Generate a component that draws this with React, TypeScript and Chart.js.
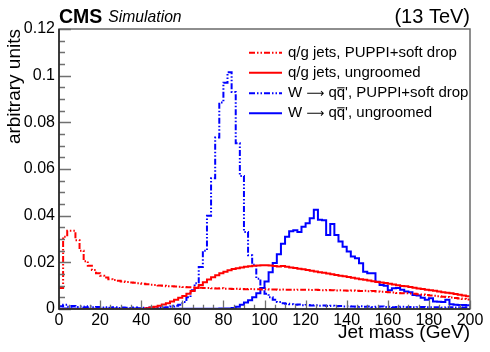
import React, { useEffect, useRef } from "react";
import { Chart, registerables } from "chart.js";

Chart.register(...registerables);

// Bin edges: 2 GeV bins from 0 to 200 GeV
const BIN_WIDTH = 2;
const N_BINS = 100;

// q/g jets, PUPPI+soft drop
const qgSoftDrop = [
  0.009, 0.031, 0.0335, 0.0335, 0.0295, 0.025, 0.0205, 0.0185, 0.0167, 0.0153,
  0.0143, 0.0135, 0.0128, 0.0124, 0.0121, 0.0118, 0.0116, 0.0114, 0.0112, 0.011,
  0.0108, 0.0106, 0.0104, 0.0103, 0.0101, 0.01, 0.0098, 0.0097, 0.0096, 0.0095,
  0.0094, 0.0093, 0.0093, 0.0092, 0.0091, 0.009, 0.009, 0.0089, 0.0088, 0.0089,
  0.0087, 0.0087, 0.0086, 0.0087, 0.0086, 0.0085, 0.0086, 0.0085, 0.0085, 0.0084,
  0.0085, 0.0084, 0.0084, 0.0083, 0.0084, 0.0083, 0.0083, 0.0082, 0.0083, 0.0082,
  0.0082, 0.0081, 0.0082, 0.0081, 0.008, 0.0081, 0.008, 0.0079, 0.008, 0.0079,
  0.0078, 0.0079, 0.0078, 0.0077, 0.0078, 0.0076, 0.0077, 0.0075, 0.0074, 0.0073,
  0.0072, 0.0071, 0.0069, 0.0068, 0.0067, 0.0066, 0.0065, 0.0063, 0.0062, 0.006,
  0.0058, 0.0057, 0.0055, 0.0053, 0.0051, 0.0049, 0.0047, 0.0045, 0.0043, 0.0041,
];

// q/g jets, ungroomed
const qgUngroomed = [
  0, 0, 0, 0, 0, 0, 0, 0, 0, 0,
  0, 0, 0, 0, 0, 0, 0, 0, 0, 0,
  0, 0.0003, 0.0006, 0.001, 0.0014, 0.0019, 0.0025, 0.0032, 0.004, 0.0048,
  0.0056, 0.0065, 0.0077, 0.009, 0.0103, 0.0115, 0.0126, 0.0136, 0.0145, 0.0153,
  0.016, 0.0166, 0.0171, 0.0175, 0.0178, 0.0181, 0.0183, 0.0185, 0.0186, 0.0187,
  0.0187, 0.0186, 0.0184, 0.0182, 0.0184, 0.0181, 0.0178, 0.0176, 0.0173, 0.017,
  0.0167, 0.0164, 0.0161, 0.0158, 0.0155, 0.0152, 0.0149, 0.0146, 0.0143, 0.014,
  0.0137, 0.0134, 0.0131, 0.0128, 0.0125, 0.0122, 0.0119, 0.0116, 0.0114, 0.0111,
  0.0108, 0.0105, 0.0102, 0.0099, 0.0097, 0.0094, 0.0091, 0.0088, 0.0086, 0.0083,
  0.008, 0.0078, 0.0075, 0.0072, 0.007, 0.0067, 0.0064, 0.0061, 0.0058, 0.0055,
];

// W -> qq', PUPPI+soft drop
const wSoftDrop = [
  0.0012, 0.0018, 0.001, 0.0013, 0.0009, 0.0011, 0.0008, 0.0012, 0.0007, 0.0009,
  0.0006, 0.0008, 0.0005, 0.0007, 0.0004, 0.0006, 0.0005, 0.0004, 0.0006, 0.0003,
  0.0005, 0.0004, 0.0006, 0.0005, 0.0007, 0.0006, 0.0008, 0.0011, 0.0014, 0.0018,
  0.003, 0.005, 0.008, 0.011, 0.018, 0.025, 0.04, 0.056, 0.0735, 0.0885,
  0.097, 0.1015, 0.093, 0.071, 0.057, 0.033, 0.023, 0.019, 0.013, 0.009,
  0.0065, 0.005, 0.004, 0.003, 0.0025, 0.0022, 0.002, 0.0018, 0.0019, 0.0016,
  0.0017, 0.0015, 0.0016, 0.0014, 0.0015, 0.0013, 0.0014, 0.0012, 0.0013, 0.0011,
  0.0012, 0.0011, 0.001, 0.0012, 0.001, 0.0011, 0.0009, 0.001, 0.0011, 0.0009,
  0.001, 0.0008, 0.0009, 0.001, 0.0008, 0.0009, 0.0007, 0.0008, 0.0009, 0.0007,
  0.0008, 0.0007, 0.0008, 0.0006, 0.0007, 0.0008, 0.0006, 0.0007, 0.0006, 0.0007,
];

// W -> qq', ungroomed
const wUngroomed = [
  0.0001, 0.0002, 0.0001, 0.0002, 0.0001, 0.0001, 0.0002, 0.0001, 0.0001, 0.0002,
  0.0001, 0.0001, 0.0001, 0.0002, 0.0001, 0.0001, 0.0001, 0.0001, 0.0002, 0.0001,
  0.0001, 0.0001, 0.0001, 0.0001, 0.0001, 0.0001, 0.0001, 0.0001, 0.0001, 0.0001,
  0.0001, 0.0001, 0.0001, 0.0001, 0.0001, 0.0001, 0.0001, 0.0001, 0.0001, 0.0002,
  0.0002, 0.0002, 0.0004, 0.001, 0.0018, 0.0028, 0.0038, 0.005, 0.0068, 0.009,
  0.0118, 0.0158, 0.0197, 0.0235, 0.028, 0.031, 0.0333, 0.0338, 0.033, 0.0353,
  0.0367, 0.0389, 0.0425, 0.0382, 0.038, 0.0317, 0.0364, 0.0317, 0.0289, 0.0267,
  0.0246, 0.0225, 0.0217, 0.0196, 0.016, 0.0153, 0.0153, 0.0117, 0.0103, 0.01,
  0.008, 0.0089, 0.009, 0.0083, 0.0075, 0.0072, 0.006, 0.0058, 0.0048, 0.004,
  0.0046, 0.0032, 0.0031, 0.003, 0.004, 0.002, 0.0018, 0.0017, 0.0017, 0.0016,
];

const xTickValues = [0, 20, 40, 60, 80, 100, 120, 140, 160, 180, 200];
const yTickValues = [0, 0.02, 0.04, 0.06, 0.08, 0.1, 0.12];

const legendLabels = [
  "q/g jets, PUPPI+soft drop",
  "q/g jets, ungroomed",
  "W \u27F6 qq', PUPPI+soft drop",
  "W \u27F6 qq', ungroomed",
];

const FONT = "'Liberation Sans', Arial, Helvetica, sans-serif";
const ARROW_FONT = "'DejaVu Sans', 'Noto Sans', sans-serif";
const RED = "#ff0000";
const BLUE = "#0000ff";
const DASH_RED = [6, 2, 1.5, 2, 1.5, 2];
const DASH_BLUE = [6, 2, 1.5, 2, 1.5, 2];

function toSteps(values: number[]) {
  const pts = values.map((v, i) => ({ x: i * BIN_WIDTH, y: v }));
  pts.push({ x: N_BINS * BIN_WIDTH, y: values[values.length - 1] });
  return pts;
}

const decorPlugin = {
  id: "decor",
  afterDraw(chart: any) {
    const { ctx, chartArea: a, scales } = chart;
    const xs = scales.x;
    const ys = scales.y;
    ctx.save();

    // ticks (inside)
    ctx.strokeStyle = "#707070";
    ctx.lineWidth = 1.3;
    ctx.beginPath();
    for (let v = 0; v <= 200.001; v += 5) {
      const px = Math.round(xs.getPixelForValue(v)) + 0.5;
      const major = Math.abs(v % 20) < 1e-6;
      const len = major ? 8.5 : 4.2;
      ctx.moveTo(px, a.bottom);
      ctx.lineTo(px, a.bottom - len);
    }
    for (let i = 0; i <= 24; i++) {
      const v = i * 0.005;
      const py = Math.round(ys.getPixelForValue(v)) + 0.5;
      const major = i % 4 === 0;
      const len = major ? 12 : 6;
      ctx.moveTo(a.left, py);
      ctx.lineTo(a.left + len, py);
    }
    ctx.stroke();

    // frame
    ctx.strokeStyle = "#6a6a6a";
    ctx.lineWidth = 1.5;
    ctx.strokeRect(a.left, a.top, a.right - a.left, a.bottom - a.top);
    ctx.strokeStyle = "#222";
    ctx.lineWidth = 1.5;
    ctx.beginPath();
    ctx.moveTo(a.left, a.top);
    ctx.lineTo(a.left, a.bottom);
    ctx.lineTo(a.right, a.bottom);
    ctx.stroke();

    // header texts
    ctx.fillStyle = "#000";
    ctx.textBaseline = "alphabetic";
    ctx.textAlign = "left";
    ctx.font = `bold 19.5px ${FONT}`;
    ctx.fillText("CMS", a.left, 22.5);
    const cmsW = ctx.measureText("CMS").width;
    ctx.font = `italic 15.7px ${FONT}`;
    ctx.fillText("Simulation", a.left + cmsW + 6, 22);
    ctx.textAlign = "right";
    ctx.font = `20px ${FONT}`;
    ctx.fillText("(13 TeV)", a.right, 22.5);

    // axis titles
    ctx.font = `19px ${FONT}`;
    ctx.textAlign = "right";
    ctx.fillText("Jet mass (GeV)", a.right, 338);
    ctx.save();
    ctx.translate(20, a.top);
    ctx.rotate(-Math.PI / 2);
    ctx.textAlign = "right";
    ctx.fillText("arbitrary units", 0, 0);
    ctx.restore();

    // legend
    const rows = [
      { color: RED, dash: DASH_RED },
      { color: RED, dash: [] as number[] },
      { color: BLUE, dash: DASH_BLUE },
      { color: BLUE, dash: [] as number[] },
    ];
    const rowY = [52.7, 72.7, 93.3, 113.3];
    const textFont = `15px ${FONT}`;
    ctx.font = textFont;
    ctx.textAlign = "left";
    ctx.textBaseline = "middle";
    rows.forEach((r, i) => {
      const y = rowY[i];
      ctx.strokeStyle = r.color;
      ctx.lineWidth = 2;
      ctx.setLineDash(r.dash);
      ctx.beginPath();
      ctx.moveTo(249, y);
      ctx.lineTo(282, y);
      ctx.stroke();
      ctx.setLineDash([]);
      ctx.fillStyle = "#000";
      const label = legendLabels[i];
      const tx = 288;
      const aIdx = label.indexOf("\u27F6");
      if (aIdx >= 0) {
        const sW = label.slice(0, aIdx);
        const sArrow = "\u27F6";
        const sQ1 = " q";
        const sQ2 = "q";
        const rest = label.slice(aIdx + 4);
        let cx = tx;
        ctx.font = textFont;
        ctx.fillText(sW, cx, y);
        cx += ctx.measureText(sW).width;
        ctx.font = `12.5px ${ARROW_FONT}`;
        ctx.fillText(sArrow, cx, y + 0.5);
        cx += ctx.measureText(sArrow).width;
        ctx.font = textFont;
        ctx.fillText(sQ1, cx, y);
        cx += ctx.measureText(sQ1).width;
        const wq = ctx.measureText(sQ2).width;
        ctx.fillText(sQ2, cx, y);
        ctx.strokeStyle = "#000";
        ctx.lineWidth = 1;
        ctx.beginPath();
        ctx.moveTo(cx + 0.5, y - 5.5);
        ctx.lineTo(cx + wq - 0.5, y - 5.5);
        ctx.stroke();
        cx += wq;
        ctx.fillText(rest, cx, y);
      } else {
        ctx.font = textFont;
        ctx.fillText(label, tx, y);
      }
    });

    ctx.restore();
  },
};

export default function App() {
  const ref = useRef<HTMLCanvasElement | null>(null);

  useEffect(() => {
    const canvas = ref.current;
    if (!canvas) return;
    const chart = new Chart(canvas, {
      type: "line",
      data: {
        datasets: [
          {
            label: legendLabels[0],
            data: toSteps(qgSoftDrop),
            borderColor: RED,
            borderWidth: 2,
            borderDash: DASH_RED,
            stepped: true,
            pointRadius: 0,
            fill: false,
          },
          {
            label: legendLabels[1],
            data: toSteps(qgUngroomed),
            borderColor: RED,
            borderWidth: 2,
            stepped: true,
            pointRadius: 0,
            fill: false,
          },
          {
            label: legendLabels[2],
            data: toSteps(wSoftDrop),
            borderColor: BLUE,
            borderWidth: 2,
            borderDash: DASH_BLUE,
            stepped: true,
            pointRadius: 0,
            fill: false,
          },
          {
            label: legendLabels[3],
            data: toSteps(wUngroomed),
            borderColor: BLUE,
            borderWidth: 2,
            stepped: true,
            pointRadius: 0,
            fill: false,
          },
        ],
      },
      options: {
        responsive: false,
        animation: false,
        layout: { padding: { top: 29, right: 20, left: 0, bottom: 0 } },
        plugins: {
          legend: { display: false },
          tooltip: { enabled: false },
          title: { display: false },
        },
        scales: {
          x: {
            type: "linear",
            min: 0,
            max: 200,
            grid: { display: false, drawTicks: false, tickLength: 0 },
            border: { display: false },
            afterFit: (s: any) => {
              s.height = 43;
            },
            afterBuildTicks: (s: any) => {
              s.ticks = xTickValues.map((v) => ({ value: v }));
            },
            ticks: {
              color: "#000",
              font: { family: FONT, size: 16 },
              padding: 2,
              maxRotation: 0,
              autoSkip: false,
              callback: (v: any) => String(v),
            },
          },
          y: {
            type: "linear",
            min: 0,
            max: 0.12,
            grid: { display: false, drawTicks: false, tickLength: 0 },
            border: { display: false },
            afterFit: (s: any) => {
              s.width = 59;
            },
            afterBuildTicks: (s: any) => {
              s.ticks = yTickValues.map((v) => ({ value: v }));
            },
            ticks: {
              color: "#000",
              font: { family: FONT, size: 16 },
              padding: 4,
              autoSkip: false,
              callback: (v: any) => String(+Number(v).toFixed(2)),
            },
          },
        },
      },
      plugins: [decorPlugin],
    });
    return () => chart.destroy();
  }, []);

  return (
    <div style={{ position: "absolute", left: 0, top: 0, width: 490, height: 352, background: "#fff" }}>
      <canvas ref={ref} width={490} height={352} style={{ display: "block", width: 490, height: 352 }} />
    </div>
  );
}
